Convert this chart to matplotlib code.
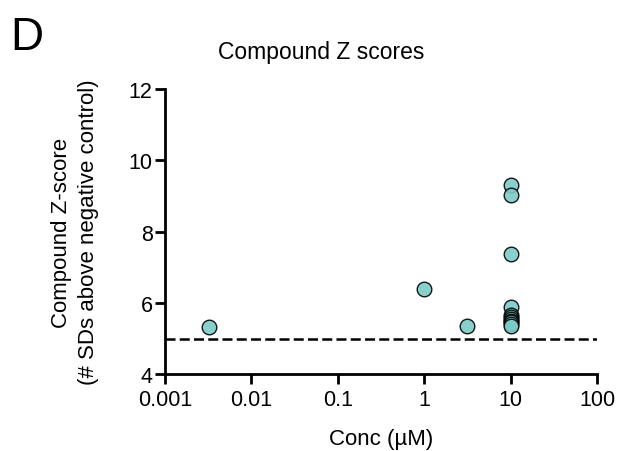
import matplotlib
matplotlib.use("Agg")
import matplotlib.pyplot as plt
import numpy as np

plt.rcParams['font.family'] = ['Liberation Sans', 'DejaVu Sans']

conc = [0.0032, 1, 3.16, 10, 10, 10, 10, 10, 10, 10, 10, 10, 10, 10]
zscore = [5.33, 6.40, 5.36, 9.30, 9.03, 7.37, 5.88, 5.65, 5.60, 5.55, 5.50, 5.45, 5.40, 5.35]
threshold = 5
xticks = [0.001, 0.01, 0.1, 1, 10, 100]
xticklabels = ['0.001', '0.01', '0.1', '1', '10', '100']
yticks = [4, 6, 8, 10, 12]

fig = plt.figure(figsize=(6.18, 4.52), dpi=100)
ax = fig.add_axes([0.267, 0.170, 0.699, 0.631])
ax.plot(conc, zscore, 'o', ms=10.5, mfc='#7ccbc8', mec='black', mew=1.0, alpha=0.9, zorder=3, clip_on=False)
ax.axhline(threshold, color='black', lw=1.8, ls=(0, (4, 1.7)), zorder=2)
ax.set_xscale('log')
ax.set_xlim(0.001, 100)
ax.set_ylim(4, 12)
ax.set_xticks(xticks)
ax.set_xticklabels(xticklabels)
ax.xaxis.set_minor_locator(matplotlib.ticker.NullLocator())
ax.set_yticks(yticks)
for s in ['top', 'right']:
    ax.spines[s].set_visible(False)
for s in ['left', 'bottom']:
    ax.spines[s].set_linewidth(2.0)
ax.tick_params(width=2.0, length=7, labelsize=15.5, direction='out')
ax.tick_params(axis='x', pad=4)
ax.tick_params(axis='y', pad=2)
ax.set_xlabel('Conc (µM)', fontsize=16)
ax.xaxis.set_label_coords(0.5, -0.225)
ax.xaxis.label.set_va('center')
ax.set_ylabel('Compound Z-score\n(# SDs above negative control)', fontsize=16, linespacing=1.4)
ax.yaxis.set_label_coords(-0.152, 0.5)
fig.text(321 / 618, 1 - 53 / 452, 'Compound Z scores', fontsize=16.5, ha='center', va='center')
fig.text(0.016, 1 - 50 / 452, 'D', fontsize=33, va='baseline')
fig.savefig('out.png', dpi=100)
